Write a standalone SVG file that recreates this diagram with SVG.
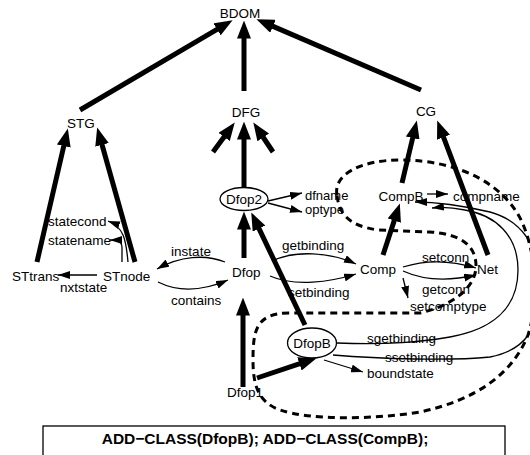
<svg xmlns="http://www.w3.org/2000/svg" width="530" height="455" viewBox="0 0 530 455">
  <style>
    text { font-family: "Liberation Sans", Arial, sans-serif; font-size: 13.5px; fill: #000; }
    .mid { text-anchor: middle; }
    .thick { fill: none; stroke: #000; stroke-width: 5; marker-end: url(#bighead); }
    .thin { fill: none; stroke: #000; stroke-width: 1.3; marker-end: url(#smallhead); }
    .bound { fill: none; stroke: #000; stroke-width: 3; stroke-dasharray: 7 5; }
    .oval { fill: #fff; stroke: #000; stroke-width: 1.3; }
    .cmd { font-weight: bold; font-size: 15.5px; }
    .tight { font-size: 13px; }
  </style>
  <defs>
    <!-- big head: path ends at the base, head extends 18px forward -->
    <marker id="bighead" viewBox="0 0 18 14" refX="0.5" refY="7" markerWidth="18" markerHeight="14" markerUnits="userSpaceOnUse" orient="auto">
      <path d="M0,0 L18,7 L0,14 z" fill="#000"/>
    </marker>
    <marker id="smallhead" viewBox="0 0 12 8" refX="12" refY="4" markerWidth="12" markerHeight="8" markerUnits="userSpaceOnUse" orient="auto">
      <path d="M0,0 L12,4 L0,8 z" fill="#000"/>
    </marker>
  </defs>
  <rect width="530" height="455" fill="#fff"/>

  <!-- dashed boundary around the added classes -->
  <path class="bound" d="M337,195 C333,175 360,160 400,160 C460,160 505,185 522,222 C538,258 538,305 528,335 C512,375 475,400 420,412 C370,420 310,420 280,410 C258,402 253,385 253,360 C253,330 256,313 290,313 L420,313 C450,306 474,290 476,268 C477,245 460,234 430,232 L378,230 C350,226 339,215 337,195 Z"/>

  <g id="connectors">
    <!-- inheritance (thick) -->
    <path class="thick" d="M80,110 L217.5,29.1"/>
    <path class="thick" d="M244,91 L244,38"/>
    <path class="thick" d="M421,90 L272.5,26.1"/>
    <path class="thick" d="M37,262 L63.9,145.5"/>
    <path class="thick" d="M135,262 L101.9,144.3"/>
    <path class="thick" d="M244,188 L244,139"/>
    <path class="thick" d="M213,152 L224.4,136.5"/>
    <path class="thick" d="M273,152 L263,137"/>
    <path class="thick" d="M402,183 L412.8,137.5"/>
    <path class="thick" d="M488,255 L443.4,136.8"/>
    <path class="thick" d="M244,258 L244,229"/>
    <path class="thick" d="M305,325 L258.8,228.2"/>
    <path class="thick" d="M243,387 L243,315"/>
    <path class="thick" d="M257,378 L299.9,363.7"/>
    <path class="thick" d="M383,255 L394.4,220.1"/>

    <!-- associations (thin) -->
    <path class="thin" d="M97,275 L58,275"/>
    <path class="thin" d="M128,262 C126,240 124,227 108,221"/>
    <path class="thin" d="M122,262 L122,248 C122,242 119,240 110,240"/>
    <path class="thin" d="M225,262 C205,254 180,256 157,269"/>
    <path class="thin" d="M158,282 C180,293 205,290 228,280"/>
    <path class="thin" d="M272,261 C295,250 330,252 356,264"/>
    <path class="thin" d="M270,276 C295,287 330,282 356,274"/>
    <path class="thin" d="M268,201 L302,193"/>
    <path class="thin" d="M268,203 L302,212"/>
    <path class="thin" d="M427,194 L448,194"/>
    <path class="thin" d="M403,267 C425,260 450,260 476,268"/>
    <path class="thin" d="M403,271 C425,281 450,281 476,275"/>
    <path class="thin" d="M403,278 L408,298"/>
    <path class="thin" d="M324,360 L363,372"/>
    <path class="thin" d="M337,343 C390,345 420,342 450,337 C490,330 518,310 518,270 C518,235 495,215 465,210 C450,207 440,207 432,208"/>
    <path class="thin" d="M333,355 C380,359 450,361 490,357 C525,350 540,330 540,285 C540,245 520,220 490,212 C460,205 440,202 415,202"/>
  </g>

  <g id="BDOM"><text class="mid" x="240" y="18">BDOM</text></g>
  <g id="STG"><text class="mid" x="81" y="128">STG</text></g>
  <g id="DFG"><text class="mid" x="246" y="117">DFG</text></g>
  <g id="CG"><text class="mid" x="426" y="116">CG</text></g>
  <g id="Dfop2">
    <ellipse class="oval" cx="244" cy="199" rx="24" ry="11.5"/>
    <text class="mid" x="244" y="204">Dfop2</text>
  </g>
  <g id="dfname"><text class="tight" x="305" y="200">dfname</text></g>
  <g id="optype"><text class="tight" x="305" y="214">optype</text></g>
  <g id="CompB"><text class="mid" x="401" y="201">CompB</text></g>
  <g id="compname"><text x="453" y="201">compname</text></g>
  <g id="statecond"><text x="48" y="226">statecond</text></g>
  <g id="statename"><text x="48" y="245">statename</text></g>
  <g id="instate"><text class="mid" x="191" y="256">instate</text></g>
  <g id="STtrans"><text x="12" y="281">STtrans</text></g>
  <g id="STnode"><text x="103" y="281">STnode</text></g>
  <g id="nxtstate"><text x="60" y="292">nxtstate</text></g>
  <g id="Dfop"><text x="232" y="277">Dfop</text></g>
  <g id="contains"><text x="171" y="305">contains</text></g>
  <g id="getbinding"><text x="282" y="250">getbinding</text></g>
  <g id="setbinding"><text x="288" y="297">setbinding</text></g>
  <g id="Comp"><text x="360" y="274">Comp</text></g>
  <g id="Net"><text x="477" y="274">Net</text></g>
  <g id="setconn"><text x="422" y="262">setconn</text></g>
  <g id="getconn"><text x="422" y="294">getconn</text></g>
  <g id="setcomptype"><text x="410" y="311">setcomptype</text></g>
  <g id="DfopB">
    <ellipse class="oval" cx="312" cy="343" rx="24.5" ry="15"/>
    <text class="mid" x="312" y="348">DfopB</text>
  </g>
  <g id="sgetbinding"><text x="367" y="343">sgetbinding</text></g>
  <g id="ssetbinding"><text x="385" y="362">ssetbinding</text></g>
  <g id="boundstate"><text x="367" y="378">boundstate</text></g>
  <g id="Dfop1"><text x="227" y="397">Dfop1</text></g>

  <g id="command">
    <rect x="43" y="426" width="462" height="40" fill="#fff" stroke="#000" stroke-width="1.3"/>
    <text class="mid cmd" x="265" y="444">ADD−CLASS(DfopB); ADD−CLASS(CompB);</text>
  </g>
</svg>
